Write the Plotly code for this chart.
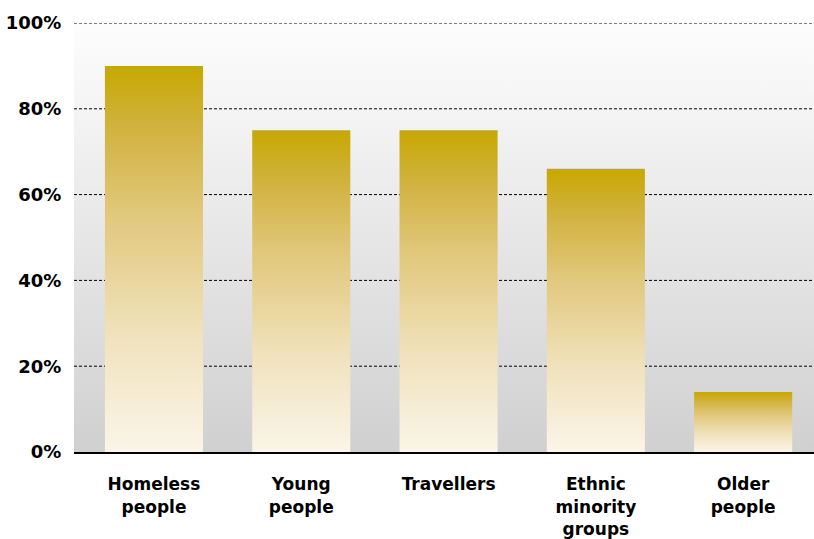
import plotly.graph_objects as go

categories = ["Homeless<br>people", "Young<br>people", "Travellers", "Ethnic<br>minority<br>groups", "Older<br>people"]
values = [90, 75, 75, 66, 14]
y_ticks = [0, 20, 40, 60, 80, 100]
y_tick_labels = ["0%", "20%", "40%", "60%", "80%", "100%"]

X_RANGE = [-0.543, 4.481]
HALF_W = 0.333
BAR_SCALE = [[0.0, "#FBF5E9"], [0.3, "#F0E2BC"], [0.6, "#E2C980"], [0.85, "#D0B13C"], [1.0, "#C8A800"]]
BG_SCALE = [[0.0, "#D0D0D0"], [1.0, "#FDFDFD"]]

fig = go.Figure()

# plot-area background gradient
fig.add_trace(go.Scatter(
    x=[X_RANGE[0], X_RANGE[1], X_RANGE[1], X_RANGE[0], X_RANGE[0]],
    y=[y_ticks[0], y_ticks[0], y_ticks[-1], y_ticks[-1], y_ticks[0]],
    mode="none", fill="toself",
    fillgradient=dict(type="vertical", colorscale=BG_SCALE),
    hoverinfo="skip", showlegend=False,
))

# dotted gridlines
for t in y_ticks[1:]:
    fig.add_trace(go.Scatter(
        x=X_RANGE, y=[t, t], mode="lines",
        line=dict(color="black", width=1, dash="3px,2px"),
        hoverinfo="skip", showlegend=False,
    ))

# bars with vertical gradient
for i, v in enumerate(values):
    fig.add_trace(go.Scatter(
        x=[i - HALF_W, i + HALF_W, i + HALF_W, i - HALF_W, i - HALF_W],
        y=[0, 0, v, v, 0],
        mode="none", fill="toself",
        fillgradient=dict(type="vertical", colorscale=BAR_SCALE),
        name=categories[i].replace("<br>", " "),
        hovertemplate="%{fullData.name}: " + str(v) + "%<extra></extra>",
        showlegend=False,
    ))

fig.update_layout(
    width=814, height=539,
    margin=dict(l=74, r=0, t=23, b=87),
    paper_bgcolor="white", plot_bgcolor="white",
    font=dict(family="DejaVu Sans", size=17, color="black"),
    showlegend=False,
)
fig.update_xaxes(
    range=X_RANGE, automargin=False,
    tickmode="array", tickvals=list(range(len(categories))),
    ticktext=["<b>" + c.replace("<br>", "</b><br><b>") + "</b>" for c in categories],
    showgrid=False, zeroline=False,
    showline=True, linecolor="black", linewidth=2,
    ticks="outside", ticklen=16, tickcolor="rgba(0,0,0,0)",
    tickfont=dict(size=17),
)
fig.update_yaxes(
    range=[0, 100], automargin=False,
    tickmode="array", tickvals=y_ticks,
    ticktext=["<b>" + t + "</b>" for t in y_tick_labels],
    showgrid=False, zeroline=False, showline=False,
    ticks="outside", ticklen=8, tickcolor="rgba(0,0,0,0)",
    tickfont=dict(size=18),
)

fig.write_html("out.html")
